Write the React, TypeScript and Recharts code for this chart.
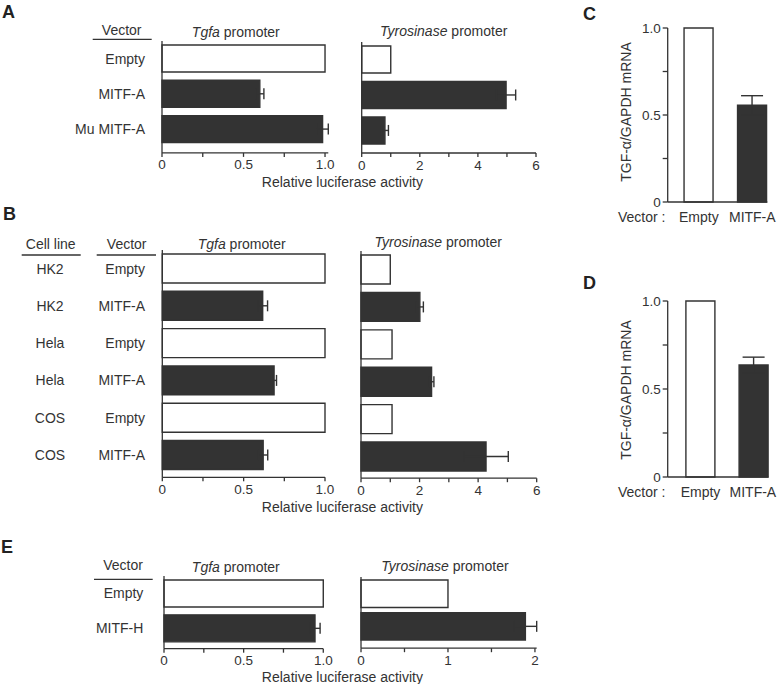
import React from 'react';
import { BarChart, Bar, XAxis, YAxis, Cell, ErrorBar } from 'recharts';

const FONT = '"Liberation Sans", Arial, Helvetica, sans-serif';
const INK = '#333333';
const DARK = '#333333';
const FS = 14;
const TICK_FS = 13.5;

// Panel A
const vectorsA = ['Empty', 'MITF-A', 'Mu MITF-A'];
const tgfaA = [1.0, 0.6, 0.985];
const tgfaErrA = [0, 0.025, 0.035];
const tyrA = [1.0, 4.97, 0.8];
const tyrErrA = [0, 0.33, 0.12];

// Panel B
const cellLinesB = ['HK2', 'HK2', 'Hela', 'Hela', 'COS', 'COS'];
const vectorsB = ['Empty', 'MITF-A', 'Empty', 'MITF-A', 'Empty', 'MITF-A'];
const tgfaB = [1.0, 0.617, 1.0, 0.687, 1.0, 0.62];
const tgfaErrB = [0, 0.03, 0, 0.015, 0, 0.028];
const tyrB = [1.0, 2.01, 1.06, 2.41, 1.06, 4.27];
const tyrErrB = [0, 0.12, 0, 0.08, 0, 0.76];

// Panels C and D
const vectorsCD = ['Empty', 'MITF-A'];
const mrnaC = [1.0, 0.556];
const mrnaErrC = [0, 0.055];
const mrnaD = [1.0, 0.636];
const mrnaErrD = [0, 0.045];

// Panel E
const vectorsE = ['Empty', 'MITF-H'];
const tgfaE = [1.0, 0.948];
const tgfaErrE = [0, 0.032];
const tyrE = [1.0, 1.89];
const tyrErrE = [0, 0.13];

const fracTicks = [0, 0.25, 0.5, 0.75, 1];
const tyrTicks6 = [0, 1, 2, 3, 4, 5, 6];
const tyrTicks2 = [0, 0.5, 1, 1.5, 2];

const fracFmt = (v: number) => (v === 0 ? '0' : v === 0.5 ? '0.5' : v === 1 ? '1.0' : '');
const evenFmt = (v: number) => (v % 2 === 0 ? String(v) : '');
const intFmt = (v: number) => (Number.isInteger(v) ? String(v) : '');

// symmetric error: the lower half sits inside the dark bar and is not seen
const rows = (labels: string[], values: number[], errs: number[]) =>
  labels.map((label, i) => ({
    name: `${i}-${label}`,
    label,
    value: values[i],
    err: errs[i] > 0 ? errs[i] : undefined,
    empty: label === 'Empty',
  }));

const vectorsLabel = (key: string) => key.slice(key.indexOf('-') + 1);
const vectorTick = (x: number) => (props: any) => (
  <text x={x} y={props.y} dy="0.35em" textAnchor="end" fontSize={FS} fill={INK}>
    {vectorsLabel(props.payload.value)}
  </text>
);

const CellVectorTick = (props: any) => {
  const idx = Number(String(props.payload.value).split('-')[0]);
  return (
    <g>
      <text x={50} y={props.y} dy="0.35em" textAnchor="middle" fontSize={FS} fill={INK}>
        {cellLinesB[idx]}
      </text>
      <text x={145} y={props.y} dy="0.35em" textAnchor="end" fontSize={FS} fill={INK}>
        {vectorsB[idx]}
      </text>
    </g>
  );
};

const axisStyle = { stroke: INK, strokeWidth: 1.3 };

function HBar(p: {
  left: number; plotLeft: number; plotRight: number; plotTop: number; axisY: number;
  padBottom: number; barSize: number; data: any[]; domain: number[]; ticks: number[];
  fmt: (v: number) => string; tick?: any;
}) {
  const top = p.plotTop - 6;
  const width = p.plotRight - p.left + 16;
  const height = p.axisY - top + 26;
  return (
    <div style={{ position: 'absolute', left: p.left, top }}>
      <BarChart
        layout="vertical"
        width={width}
        height={height}
        data={p.data}
        margin={{ top: p.plotTop - top, right: width - (p.plotRight - p.left), bottom: height - (p.axisY - top) - 22, left: 0 }}
      >
        <XAxis
          type="number"
          domain={p.domain}
          ticks={p.ticks}
          interval={0}
          tickFormatter={p.fmt}
          height={22}
          tickSize={4}
          tickMargin={3}
          axisLine={axisStyle}
          tickLine={axisStyle}
          tick={{ fill: INK, fontSize: TICK_FS }}
        />
        <YAxis
          type="category"
          dataKey="name"
          width={p.plotLeft - p.left}
          padding={{ top: 0, bottom: p.padBottom }}
          axisLine={axisStyle}
          tickLine={false}
          tick={p.tick ?? false}
        />
        <Bar dataKey="value" barSize={p.barSize} isAnimationActive={false}>
          {p.data.map((d, i) => (
            <Cell key={i} fill={d.empty ? '#ffffff' : DARK} stroke={d.empty ? INK : DARK} strokeWidth={1.4} />
          ))}
          <ErrorBar dataKey="err" direction="x" width={5.5} stroke={DARK} strokeWidth={1.4} />
        </Bar>
      </BarChart>
    </div>
  );
}

function VBar(p: { plotTop: number; axisY: number; plotRight: number; padL: number; padR: number; data: any[] }) {
  const left = 580;
  const width = 197;
  const top = p.plotTop - 10;
  const height = p.axisY - top + 34;
  return (
    <div style={{ position: 'absolute', left, top }}>
      <BarChart
        width={width}
        height={height}
        data={p.data}
        margin={{ top: 10, right: left + width - p.plotRight, bottom: height - (p.axisY - top) - 30, left: 0 }}
      >
        <XAxis
          type="category"
          dataKey="label"
          height={30}
          padding={{ left: p.padL, right: p.padR }}
          axisLine={axisStyle}
          tickLine={false}
          tickMargin={4}
          tick={{ fill: INK, fontSize: FS }}
        />
        <YAxis
          type="number"
          domain={[0, 1]}
          ticks={fracTicks}
          interval={0}
          tickFormatter={fracFmt}
          width={87.7}
          tickSize={5}
          tickMargin={2}
          axisLine={axisStyle}
          tickLine={axisStyle}
          tick={{ fill: INK, fontSize: TICK_FS }}
        />
        <Bar dataKey="value" barSize={29} isAnimationActive={false}>
          {p.data.map((d, i) => (
            <Cell key={i} fill={d.empty ? '#ffffff' : DARK} stroke={d.empty ? INK : DARK} strokeWidth={1.4} />
          ))}
          <ErrorBar dataKey="err" direction="y" width={11} stroke={DARK} strokeWidth={1.4} />
        </Bar>
      </BarChart>
    </div>
  );
}

const Txt = ({ x, y, children, anchor = 'middle' }: any) => (
  <text x={x} y={y} textAnchor={anchor} fontSize={FS} fill={INK}>
    {children}
  </text>
);
const Letter = ({ x, y, children }: any) => (
  <text x={x} y={y} fontSize={18} fontWeight="bold" fill="#222">
    {children}
  </text>
);
const Promoter = ({ x, y, gene }: any) => (
  <text x={x} y={y} textAnchor="middle" fontSize={FS} fill={INK}>
    <tspan fontStyle="italic">{gene}</tspan> promoter
  </text>
);
const Rule = ({ x1, x2, y }: any) => <line x1={x1} x2={x2} y1={y} y2={y} stroke={INK} strokeWidth={1.3} />;
const YLabel = ({ x, y }: any) => (
  <text x={x} y={y} textAnchor="middle" fontSize={FS} fill={INK} transform={`rotate(-90 ${x} ${y})`}>
    TGF-α/GAPDH mRNA
  </text>
);

export default function App() {
  return (
    <div style={{ position: 'absolute', left: 0, top: 0, width: 777, height: 684, background: '#fff', fontFamily: FONT }}>
      {/* A */}
      <HBar left={0} plotLeft={162} plotRight={328.3} plotTop={41.4} axisY={153.3} padBottom={6} barSize={27}
        data={rows(vectorsA, tgfaA, tgfaErrA)} domain={[0, 1.02]} ticks={fracTicks} fmt={fracFmt} tick={vectorTick(145)} />
      <HBar left={340} plotLeft={361.7} plotRight={536} plotTop={41.5} axisY={152.5} padBottom={4.6} barSize={27}
        data={rows(vectorsA, tyrA, tyrErrA)} domain={[0, 6]} ticks={tyrTicks6} fmt={evenFmt} />
      {/* B */}
      <HBar left={0} plotLeft={162.3} plotRight={325} plotTop={250.4} axisY={477.7} padBottom={3.5} barSize={29}
        data={rows(vectorsB, tgfaB, tgfaErrB)} domain={[0, 1]} ticks={fracTicks} fmt={fracFmt} tick={CellVectorTick} />
      <HBar left={340} plotLeft={361} plotRight={536.7} plotTop={250.5} axisY={477.7} padBottom={2.7} barSize={29}
        data={rows(vectorsB, tyrB, tyrErrB)} domain={[0, 6]} ticks={tyrTicks6} fmt={evenFmt} />
      {/* C, D */}
      <VBar plotTop={28} axisY={202} plotRight={767.3} padL={4.35} padR={-11.75} data={rows(vectorsCD, mrnaC, mrnaErrC)} />
      <VBar plotTop={300.7} axisY={476.7} plotRight={768.3} padL={6.2} padR={-12} data={rows(vectorsCD, mrnaD, mrnaErrD)} />
      {/* E */}
      <HBar left={0} plotLeft={164} plotRight={323.3} plotTop={575.6} axisY={648.3} padBottom={3} barSize={27}
        data={rows(vectorsE, tgfaE, tgfaErrE)} domain={[0, 1]} ticks={fracTicks} fmt={fracFmt} tick={vectorTick(143.3)} />
      <HBar left={340} plotLeft={361} plotRight={536.7} plotTop={576.5} axisY={647.7} padBottom={6} barSize={27.5}
        data={rows(vectorsE, tyrE, tyrErrE)} domain={[0, 2.02]} ticks={tyrTicks2} fmt={intFmt} />

      <svg width={777} height={684} style={{ position: 'absolute', left: 0, top: 0, pointerEvents: 'none', fontFamily: FONT }}>
        <Letter x={2} y={18}>A</Letter>
        <Txt x={121.7} y={35}>Vector</Txt>
        <Rule x1={92.7} x2={151.7} y={39.3} />
        <Promoter x={235.8} y={37} gene="Tgfa" />
        <Promoter x={443.7} y={36} gene="Tyrosinase" />
        <Txt x={342.4} y={186.5}>Relative luciferase activity</Txt>

        <Letter x={3} y={220}>B</Letter>
        <Txt x={50.7} y={249}>Cell line</Txt>
        <Rule x1={21.7} x2={80.7} y={255} />
        <Txt x={126.7} y={249}>Vector</Txt>
        <Rule x1={96.7} x2={156} y={255} />
        <Promoter x={241.7} y={249} gene="Tgfa" />
        <Promoter x={438.3} y={247} gene="Tyrosinase" />
        <Txt x={342.4} y={511.5}>Relative luciferase activity</Txt>

        <Letter x={583} y={20}>C</Letter>
        <Txt x={641.7} y={221.7}>Vector :</Txt>
        <YLabel x={630.5} y={112} />

        <Letter x={583} y={288.5}>D</Letter>
        <Txt x={641.7} y={496.7}>Vector :</Txt>
        <YLabel x={630.5} y={390} />

        <Letter x={1} y={553}>E</Letter>
        <Txt x={123} y={570}>Vector</Txt>
        <Rule x1={94} x2={152.7} y={579.3} />
        <Promoter x={235.8} y={571.5} gene="Tgfa" />
        <Promoter x={445} y={571} gene="Tyrosinase" />
        <Txt x={342.4} y={681.5}>Relative luciferase activity</Txt>
      </svg>
    </div>
  );
}
